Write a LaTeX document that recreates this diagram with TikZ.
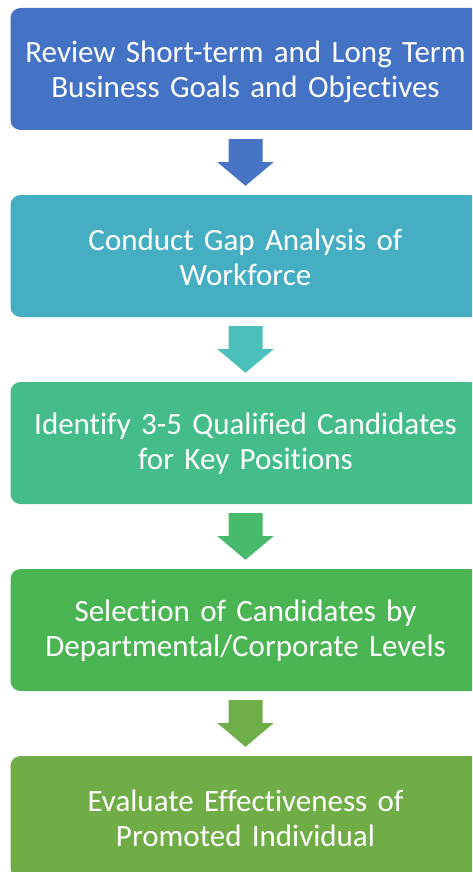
\documentclass[tikz,border=0pt]{standalone}
\usepackage{fontspec}
\setmainfont[RawFeature=-liga]{Carlito}
\definecolor{cA}{HTML}{4472C4}
\definecolor{cB}{HTML}{46AEC2}
\definecolor{cC}{HTML}{45BD8A}
\definecolor{cD}{HTML}{4BB554}
\definecolor{cE}{HTML}{70AD47}
\definecolor{aA}{HTML}{4874C6}
\definecolor{aB}{HTML}{4BC0BA}
\definecolor{aC}{HTML}{48BA6C}
\definecolor{aD}{HTML}{6EAF4A}
\tikzset{
  stepbox/.style={rounded corners=10pt, minimum width=470pt, minimum height=122pt, inner sep=0pt},
  steptext/.style={text width=460pt, align=center, text=white, inner sep=0pt,
    font=\fontsize{31}{35}\selectfont}
}
\begin{document}
\begin{tikzpicture}[x=1pt,y=1pt]
\useasboundingbox (0,0) rectangle (472,-872);
\clip (0,0) rectangle (472,-872);
\node[stepbox, fill=cA] (b1) at (245.5,-69) {};
\node[stepbox, fill=cB] (b2) at (245.5,-256) {};
\node[stepbox, fill=cC] (b3) at (245.5,-443) {};
\node[stepbox, fill=cD] (b4) at (245.5,-630) {};
\node[stepbox, fill=cE] (b5) at (245.5,-817) {};
\node[steptext] (t1) at ([yshift=-3pt]b1.center) {Review Short-term and Long Term\\Business Goals and Objectives};
\node[steptext] (t2) at ([yshift=-1pt]b2.center) {Conduct Gap Analysis of\\Workforce};
\node[steptext] (t3) at ([yshift=-1pt]b3.center) {Identify 3-5 Qualified Candidates\\for Key Positions};
\node[steptext] (t4) at ([yshift=-1pt]b4.center) {Selection of Candidates by\\Departmental/Corporate Levels};
\node[steptext] (t5) at ([yshift=-1pt]b5.center) {Evaluate Effectiveness of\\Promoted Individual};
\foreach \u/\v/\c in {b1/b2/aA, b2/b3/aB, b3/b4/aC, b4/b5/aD}{
  \path ([yshift=-9pt]\u.south) coordinate (t\u);
  \fill[\c] ([xshift=-17pt]t\u) -- ([xshift=17pt]t\u) -- ([xshift=17pt,yshift=-23pt]t\u)
    -- ([xshift=28pt,yshift=-23pt]t\u) -- ([yshift=9pt]\v.north) -- ([xshift=-28pt,yshift=-23pt]t\u)
    -- ([xshift=-17pt,yshift=-23pt]t\u) -- cycle;
}
\end{tikzpicture}
\end{document}
